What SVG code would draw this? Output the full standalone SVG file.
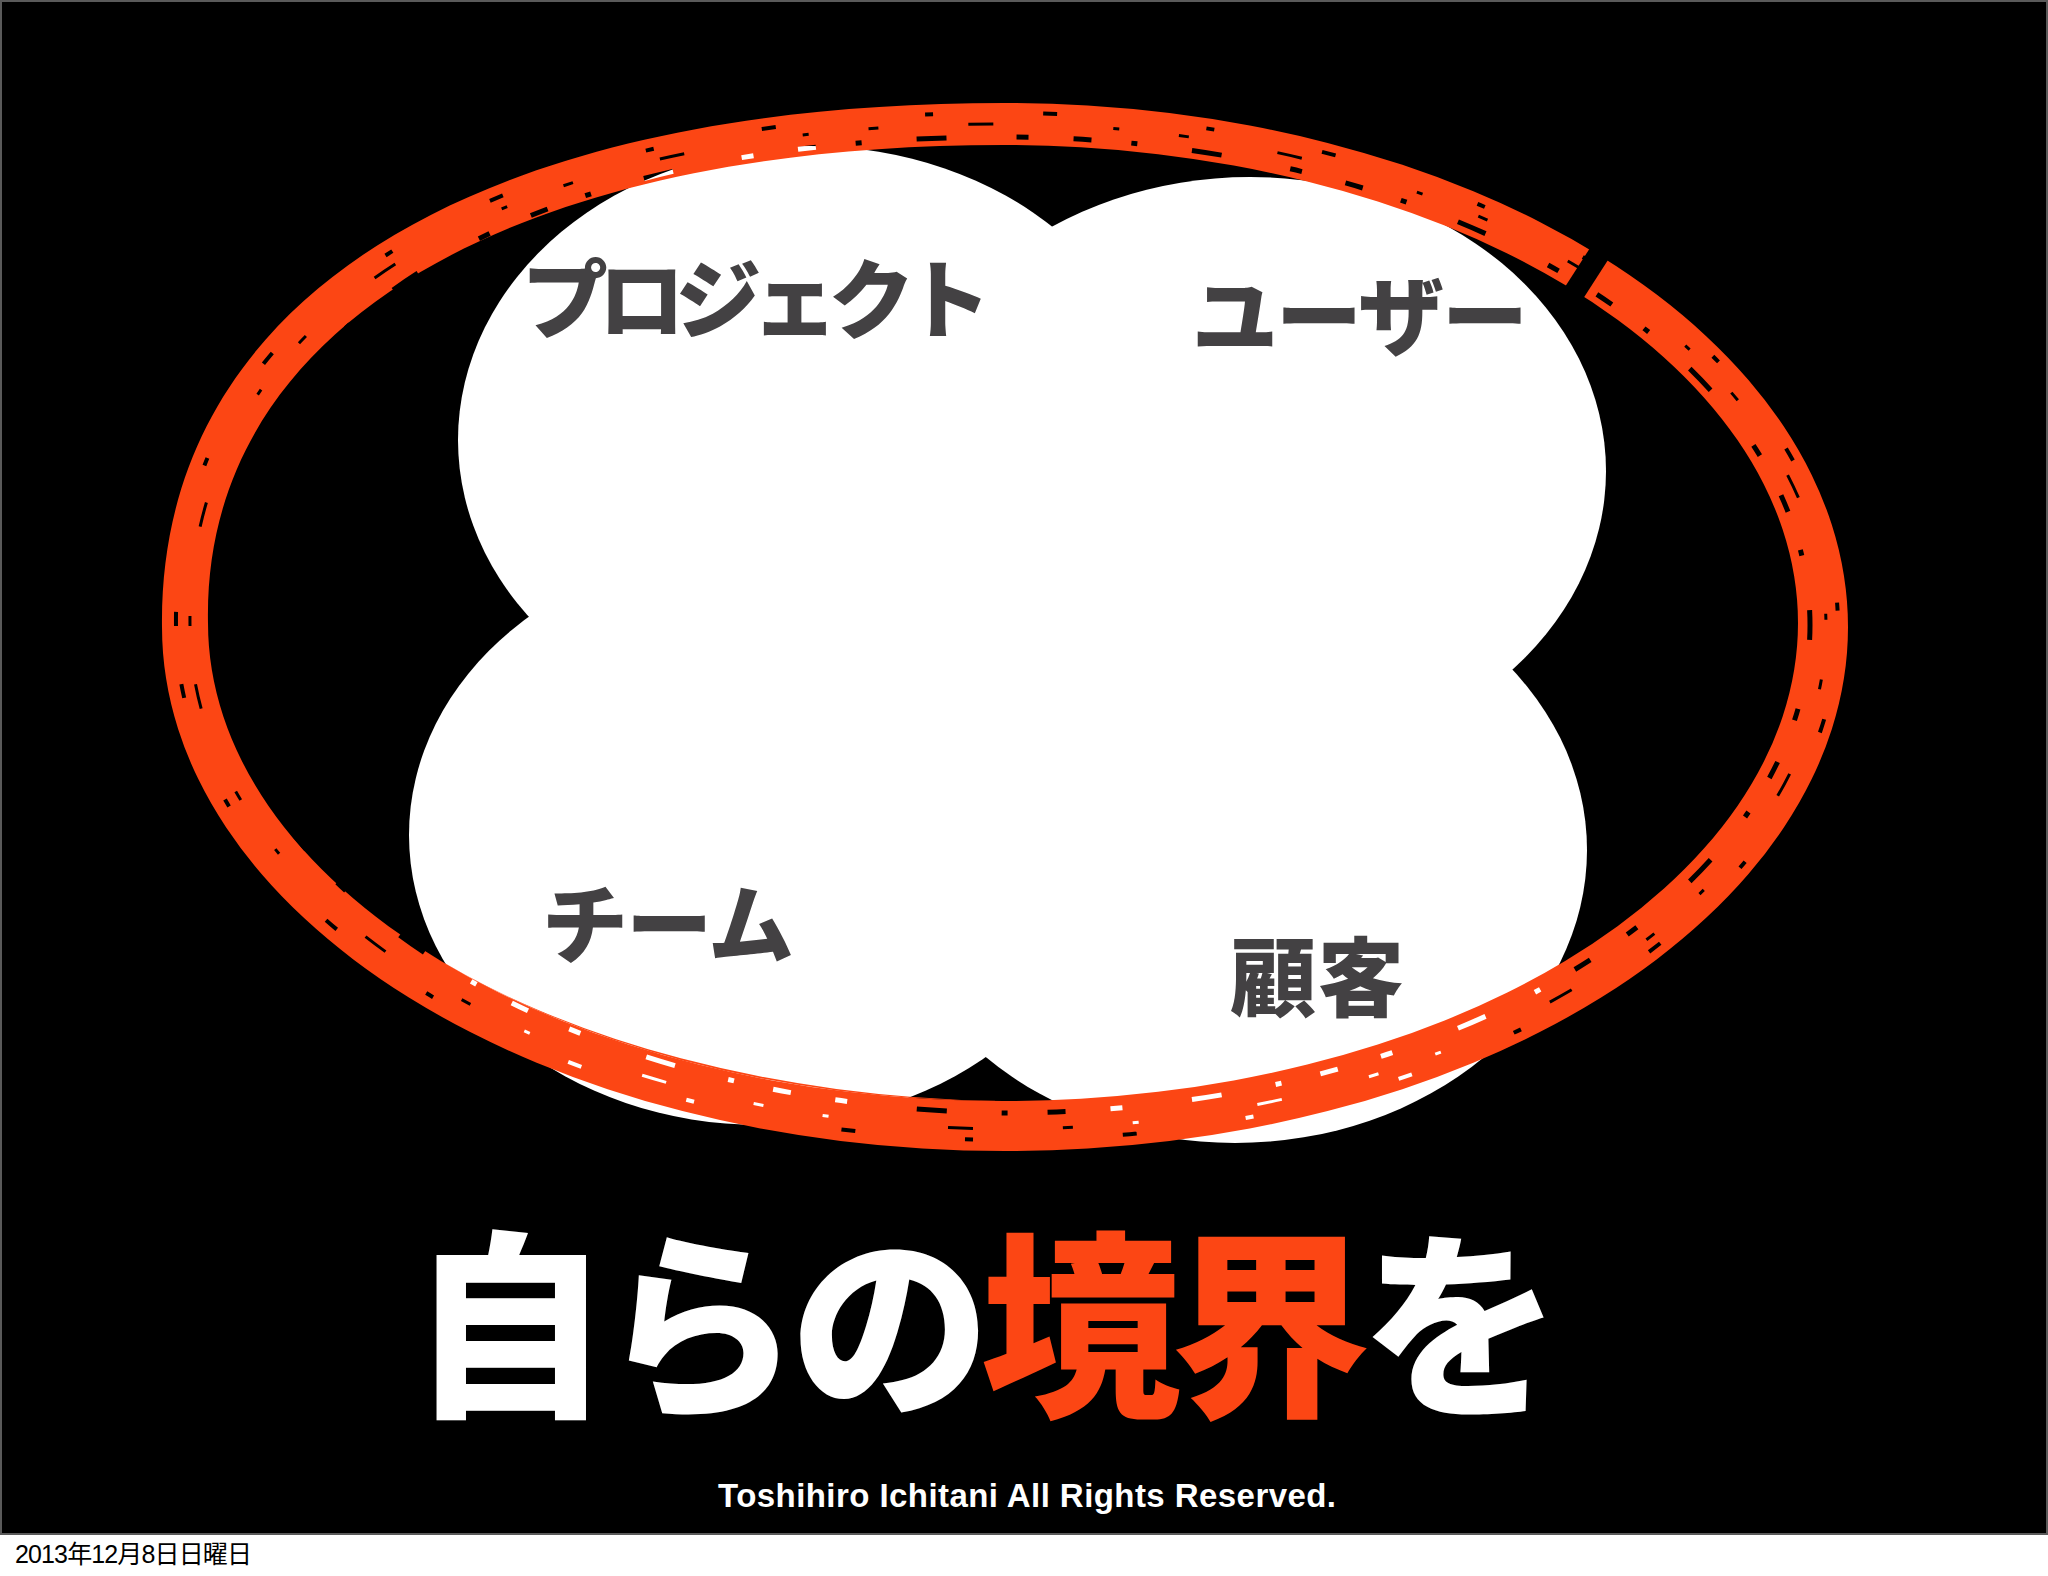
<svg xmlns="http://www.w3.org/2000/svg" width="2048" height="1576" viewBox="0 0 2048 1576">
  <style>
    .blob { fill: #ffffff; }
    .label { font-family: "Noto Sans CJK JP", "Noto Sans", sans-serif; font-weight: 900; font-size: 86px; fill: #434143; }
    .title { font-family: "Noto Sans CJK JP", "Noto Sans", sans-serif; font-weight: 900; font-size: 200px; fill: #ffffff; }
    .accent { fill: #fc4614; }
    .copy { font-family: "Liberation Sans", Arial, sans-serif; font-weight: 700; font-size: 33px; fill: #ffffff; }
    .date { font-family: "Liberation Sans", "Noto Sans CJK JP", sans-serif; font-size: 25px; fill: #000000; }
    .hole { fill: none; stroke: #000000; }
  </style>
  <defs>
    <mask id="brushMask" maskUnits="userSpaceOnUse" x="0" y="0" width="2048" height="1576">
      <rect x="0" y="0" width="2048" height="1576" fill="#ffffff"/>
      <!-- scratches following the brush stroke -->
      <path class="hole" stroke-width="5" stroke-dasharray="18 40 6 55 30 70 12 45"
        d="M 216 625 C 212 326 514 137 1004 137 A 806 488 0 0 1 1810 625 A 806 488 0 0 1 1004 1113 A 806 488 0 0 1 216 625 Z"/>
      <path class="hole" stroke-width="3" stroke-dasharray="10 90 25 120 6 60"
        d="M 190 626 C 186 314 496 124 1004 124 A 822 503 0 0 1 1826 626 A 822 503 0 0 1 1004 1129 A 822 503 0 0 1 190 626 Z"/>
      <path class="hole" stroke-width="4" stroke-dasharray="14 150 8 110"
        d="M 176 626 C 172 306 488 113 1004 113 A 834 514 0 0 1 1838 626 A 834 514 0 0 1 1004 1140 A 834 514 0 0 1 176 626 Z"/>
      <polygon points="1608,220 1626,232 1572,316 1554,304" fill="#000000"/>
    </mask>
  </defs>

  <rect id="page" x="0" y="0" width="2048" height="1576" fill="#ffffff"/>
  <rect id="slide" x="1" y="1" width="2046" height="1533" fill="#000000" stroke="#5a5a5a" stroke-width="2"/>

  <g id="blob">
    <ellipse class="blob" cx="810" cy="440" rx="352" ry="294"/>
    <ellipse class="blob" cx="1250" cy="471" rx="356" ry="294"/>
    <ellipse class="blob" cx="760" cy="835" rx="351" ry="290"/>
    <ellipse class="blob" cx="1235" cy="850" rx="352" ry="293"/>
  </g>

  <g id="node-project"><text class="label" x="522" y="332" textLength="469">プロジェクト</text></g>
  <g id="node-user"><text class="label" x="1192" y="349" textLength="336">ユーザー</text></g>
  <g id="node-team"><text class="label" x="542" y="957" textLength="252">チーム</text></g>
  <g id="node-customer"><text class="label" x="1230" y="1010" textLength="174">顧客</text></g>

  <g id="boundary" mask="url(#brushMask)">
    <path class="accent" fill-rule="evenodd"
      d="M 162 627 C 158 295 480 103 1005 103 A 843 524 0 0 1 1848 627 A 843 524 0 0 1 1005 1151 A 843 524 0 0 1 162 627 Z
         M 208 623 C 202 322 520 145 1003 145 A 795 478 0 0 1 1798 623 A 795 478 0 0 1 1003 1101 A 795 478 0 0 1 208 623 Z"/>
    <path class="accent" d="M 420 948 A 795 478 0 0 0 1000 1101 A 795 440 0 0 1 420 948 Z"/>
  </g>

  <g id="headline">
    <text class="title" x="410" y="1401" textLength="1151">自らの<tspan class="accent">境界</tspan>を</text>
  </g>

  <text id="copyright" class="copy" x="718" y="1507" textLength="618">Toshihiro Ichitani All Rights Reserved.</text>
  <text id="date" class="date" x="15" y="1563" textLength="237">2013年12月8日日曜日</text>
</svg>
